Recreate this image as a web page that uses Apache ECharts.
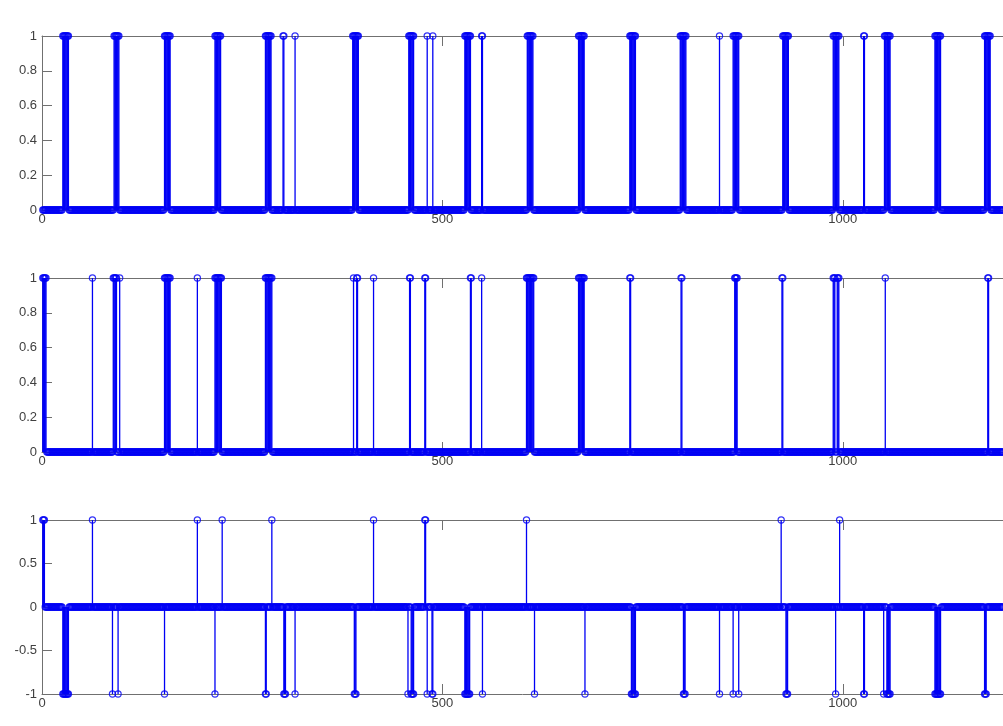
<!DOCTYPE html>
<html><head><meta charset="utf-8">
<script src="https://cdn.jsdelivr.net/npm/echarts@6/dist/echarts.min.js"></script>
<style>html,body{margin:0;padding:0;background:#fff}#c{width:1003px;height:726px}</style>
</head><body><div id="c"></div>
<script>
// ---- data ----
const N = 1200;                       // number of samples (x = 1..N)
const xTickValues = [0, 500, 1000];
const yTicks01 = [0, 0.2, 0.4, 0.6, 0.8, 1];
const yTicksPM = [-1, -0.5, 0, 0.5, 1];

// subplot 1: indices whose value is 1 (all others 0)
const s1Ones = [
  26,27,28,29,30,31,32,33,
  90,91,92,93,94,95,96,
  153,154,155,156,157,158,159,160,
  216,217,218,219,220,221,222,223,
  279,280,281,282,283,284,285,286,
  301,302,
  316,
  388,389,390,391,392,393,394,395,
  458,459,460,461,462,463,464,
  481,
  488,
  528,529,530,531,532,533,534,535,
  549,550,
  606,607,608,609,610,611,612,613,
  670,671,672,673,674,675,676,677,
  734,735,736,737,738,739,740,741,
  797,798,799,800,801,802,803,804,
  846,
  863,864,865,866,867,868,869,870,
  925,926,927,928,929,930,931,932,
  988,989,990,991,992,993,994,995,
  1026,1027,
  1052,1053,1054,1055,1056,1057,1058,1059,
  1115,1116,1117,1118,1119,1120,1121,1122,
  1177,1178,1179,1180,1181,1182,1183,1184
];

// subplot 2: indices whose value is 1
const s2Ones = [
  1,2,3,4,5,
  63,
  89,90,91,92,93,
  97,
  153,154,155,156,157,158,159,160,
  194,
  216,217,218,219,220,221,222,223,224,
  279,280,281,282,283,284,285,286,287,
  389,
  393,394,
  414,
  459,460,
  478,479,
  535,536,
  549,
  605,606,607,608,609,610,611,612,613,614,
  670,671,672,673,674,675,676,677,
  734,735,
  798,799,
  865,866,867,868,
  924,925,
  988,989,990,993,994,995,
  1053,
  1181,1182
];

// subplot 3: indices whose value is +1 and -1
const s3Plus = [1,2,3, 63, 194, 225, 287, 414, 478,479, 605, 923, 996];
const s3Minus = [
  26,27,28,29,30,31,32,33,
  88,
  95,
  153,
  216,
  279,280,
  302,303,304,
  316,
  390,391,392,
  457,
  461,462,463,464,
  481,
  487,488,
  528,529,530,531,532,533,534,
  550,
  615,
  678,
  736,737,738,739,740,741,
  801,802,803,
  846,
  863,
  870,
  929,930,931,
  991,
  1026,1027,
  1051,
  1055,1056,1057,1058,1059,
  1115,1116,1117,1118,1119,1120,1121,1122,
  1177,1178,1179
];

// ---- build ----
function expand(plus, minus) {
  const v = new Array(N).fill(0);
  plus.forEach(i => { v[i - 1] = 1; });
  (minus || []).forEach(i => { v[i - 1] = -1; });
  return v.map((y, i) => [i + 1, y]);
}
const panels = [
  { data: expand(s1Ones), yMin: 0, yMax: 1, yInt: 0.2, yTicks: yTicks01, top: 36 },
  { data: expand(s2Ones), yMin: 0, yMax: 1, yInt: 0.2, yTicks: yTicks01, top: 278 },
  { data: expand(s3Plus, s3Minus), yMin: -1, yMax: 1, yInt: 0.5, yTicks: yTicksPM, top: 520 }
];

const BLUE = '#0000f5';
const AX = '#707070';
const TXT = '#404040';
const FONT = 'Liberation Sans, Arial, sans-serif';
const fmt = v => String(v);

const grid = [], xAxis = [], yAxis = [], series = [];
panels.forEach((p, k) => {
  grid.push({ left: 42, top: p.top, width: 965, height: 174 });
  xAxis.push({
    type: 'value', gridIndex: k, min: 0, max: N, interval: 500,
    axisLine: { show: true, onZero: false, lineStyle: { color: AX, width: 1 } },
    axisTick: { show: true, inside: true, length: 10, customValues: xTickValues, lineStyle: { color: AX } },
    axisLabel: { show: true, customValues: xTickValues, margin: 3, formatter: fmt,
      color: TXT, fontSize: 13, fontFamily: FONT },
    splitLine: { show: false }
  });
  xAxis.push({
    type: 'value', gridIndex: k, min: 0, max: N, interval: 500, position: 'top',
    axisLine: { show: true, onZero: false, lineStyle: { color: AX, width: 1 } },
    axisTick: { show: true, inside: true, length: 10, customValues: xTickValues, lineStyle: { color: AX } },
    axisLabel: { show: false },
    splitLine: { show: false }
  });
  yAxis.push({
    type: 'value', gridIndex: k, min: p.yMin, max: p.yMax, interval: p.yInt,
    axisLine: { show: true, onZero: false, lineStyle: { color: AX, width: 1 } },
    axisTick: { show: true, inside: true, length: 10, customValues: p.yTicks, lineStyle: { color: AX } },
    axisLabel: { show: true, customValues: p.yTicks, margin: 5, formatter: fmt,
      color: TXT, fontSize: 13, fontFamily: FONT },
    splitLine: { show: false }
  });
  const stems = p.data.filter(d => d[1] !== 0);
  series.push({
    type: 'custom', xAxisIndex: 2 * k, yAxisIndex: k, data: stems,
    encode: { x: 0, y: 1 }, silent: true,
    renderItem: function (params, api) {
      const x = api.value(0), v = api.value(1);
      const a = api.coord([x, 0]), b = api.coord([x, v]);
      return { type: 'line', shape: { x1: a[0], y1: a[1], x2: b[0], y2: b[1] },
        style: { stroke: BLUE, lineWidth: 1.3 } };
    }
  });
  series.push({
    type: 'scatter', xAxisIndex: 2 * k, yAxisIndex: k, data: p.data,
    symbol: 'circle', symbolSize: 6.2, silent: true,
    itemStyle: { color: 'rgba(0,0,0,0)', borderColor: BLUE, borderWidth: 1.2 },
    progressive: 0
  });
});

const chart = echarts.init(document.getElementById('c'), null, { renderer: 'canvas' });
chart.setOption({ animation: false, backgroundColor: '#fff', grid, xAxis, yAxis, series });
</script>
</body></html>
